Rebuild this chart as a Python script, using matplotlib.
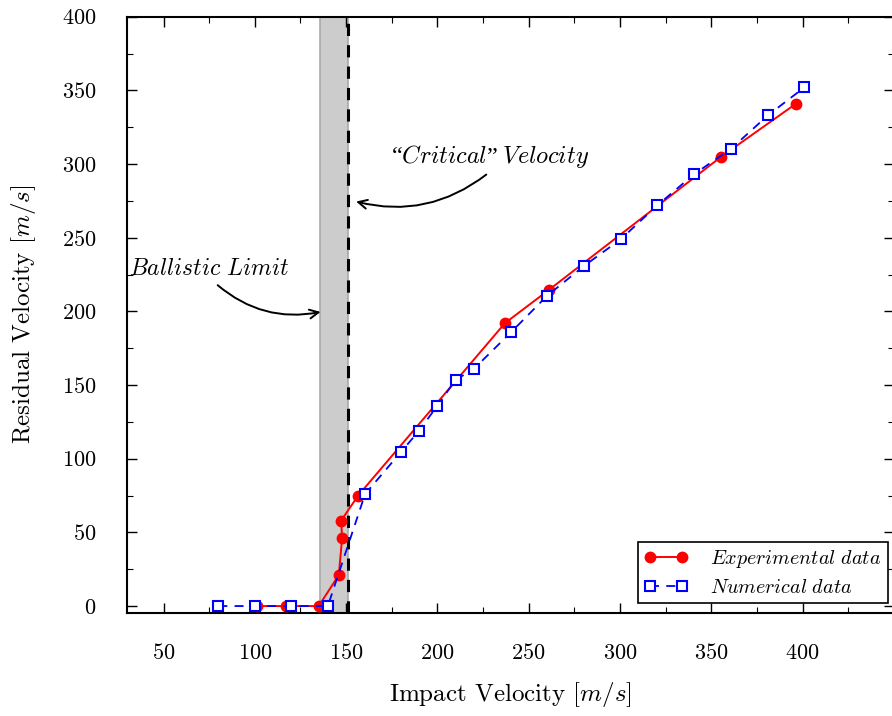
import matplotlib
matplotlib.use("Agg")
import matplotlib.pyplot as plt
from matplotlib.ticker import MultipleLocator

plt.rcParams['mathtext.fontset'] = 'cm'
plt.rcParams['font.family'] = ['cmr10', 'DejaVu Serif']
plt.rcParams['axes.formatter.use_mathtext'] = True

# experimental points (red)
exp_v_in = [101, 117, 135, 146, 147.8, 147.3, 156.6, 237, 261, 355.5, 396.5]
exp_v_out = [0, 0, 0, 21, 46, 58, 75, 192, 214.5, 305, 341]

# numerical points (blue)
num_v_in = [80, 100, 120, 140, 160.4, 180, 190, 200, 210, 220, 240.5, 260, 280.5, 300.5, 320.5, 340.5, 361, 381, 401]
num_v_out = [0, 0, 0, 0, 76, 104.5, 119, 136, 153.5, 161, 186, 210.5, 231, 249, 272, 293, 310.5, 333, 352]

ballistic_band = (135.5, 151)
critical_v = 151

fig = plt.figure(figsize=(8.92, 7.16), dpi=100)
ax = fig.add_axes([0.1424, 0.1443, 0.8596, 0.8324])

ax.axvspan(ballistic_band[0], ballistic_band[1], facecolor='#cccccc', edgecolor='#aaaaaa', lw=1.2, zorder=0)
ax.axvline(critical_v, color='black', lw=2.2, ls=(0, (4, 3)), zorder=1)

ax.plot(exp_v_in, exp_v_out, color='red', lw=1.4, marker='o', ms=7.5,
        label=r'$Experimental\ data$', zorder=3)
ax.plot(num_v_in, num_v_out, color='blue', lw=1.3, ls=(0, (5, 4)), marker='s', ms=7,
        mfc='white', mec='blue', mew=1.5, label=r'$Numerical\ data$', zorder=4)

ax.set_xlim(30, 450)
ax.set_ylim(-4.5, 400)
ax.xaxis.set_major_locator(MultipleLocator(50))
ax.xaxis.set_minor_locator(MultipleLocator(25))
ax.yaxis.set_major_locator(MultipleLocator(50))
ax.yaxis.set_minor_locator(MultipleLocator(25))
ax.set_xticks(range(50, 401, 50))
ax.tick_params(which='both', direction='in', top=True, right=True, labelsize=16)
ax.tick_params(which='major', length=7, width=1)
ax.tick_params(which='minor', length=4, width=0.8)
ax.tick_params(axis='x', pad=22)
ax.tick_params(axis='y', pad=22)
for s in ax.spines.values():
    s.set_linewidth(1.5)

ax.set_xlabel(r'Impact Velocity $[m/s]$', fontsize=18, labelpad=12)
ax.set_ylabel(r'Residual Velocity $[m/s]$', fontsize=18, labelpad=17)

ax.text(229, 305, r'“$Critical$” $Velocity$', fontsize=17.5, ha='center', va='center',
        family=['Liberation Serif'])
ax.annotate('', xy=(154, 275), xytext=(228, 294),
            arrowprops=dict(arrowstyle='->', color='black', lw=1.4,
                            connectionstyle='arc3,rad=-0.25', mutation_scale=16))
ax.text(75, 229, r'$Ballistic\ Limit$', fontsize=17, ha='center', va='center')
ax.annotate('', xy=(137.5, 200), xytext=(78.5, 219),
            arrowprops=dict(arrowstyle='->', color='black', lw=1.4,
                            connectionstyle='arc3,rad=0.25', mutation_scale=16))

leg = ax.legend(loc='lower right', fontsize=14.5, fancybox=False, framealpha=1,
                edgecolor='black', borderaxespad=0.5, handlelength=2.2, numpoints=2,
                handletextpad=1.1, borderpad=0.3, labelspacing=0.4,
                bbox_to_anchor=(1.005, 0))
leg.get_frame().set_linewidth(1.2)

fig.savefig('out.png', dpi=100)
